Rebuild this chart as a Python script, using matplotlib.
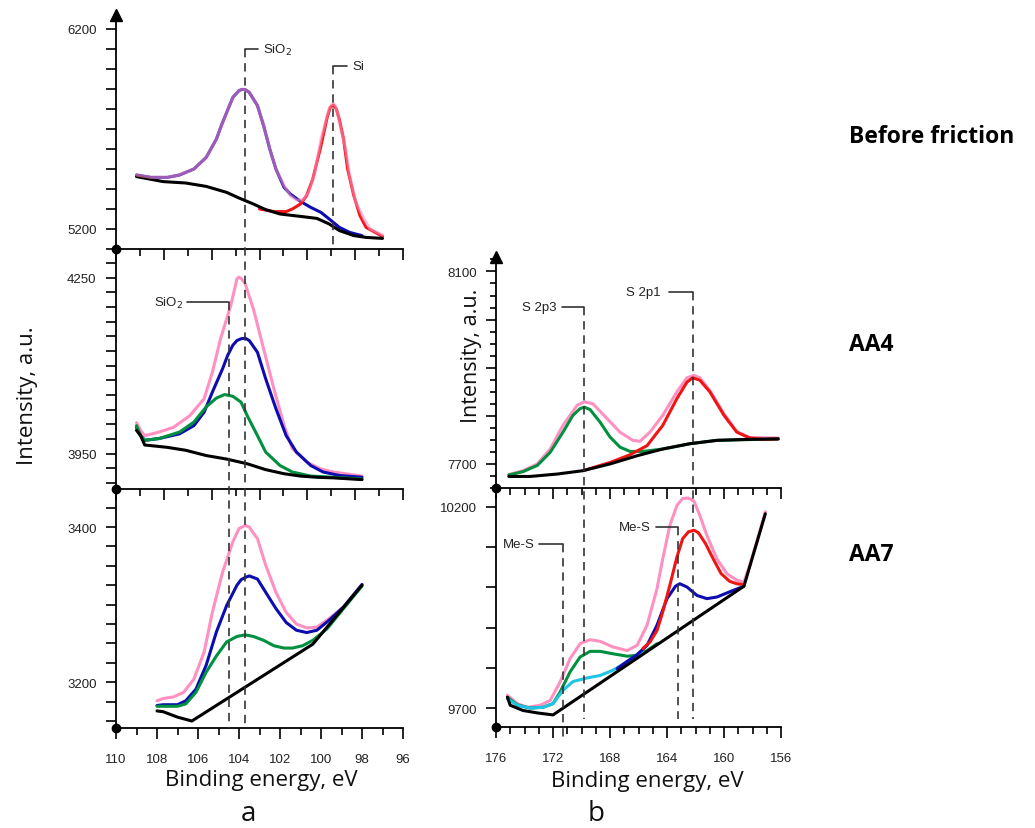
import matplotlib
matplotlib.use("Agg")
import matplotlib.pyplot as plt
from matplotlib.ticker import MultipleLocator, FixedLocator
from matplotlib.transforms import blended_transform_factory
from matplotlib.lines import Line2D
import numpy as np

# ---- data ----
# (a) Si 2p, before friction
a1_bg_e = [109.0, 107.7, 106.6, 105.6, 104.6, 104.0, 103.3, 102.7, 102.0, 101.0, 100.2, 99.6, 99.1, 98.4, 97.8, 97.0]
a1_bg_i = [5462, 5437, 5430, 5413, 5383, 5355, 5325, 5297, 5275, 5263, 5253, 5225, 5192, 5167, 5158, 5153]
a1_sum_e = [109.0, 108.3, 107.5, 106.9, 106.2, 105.6, 105.1, 104.85, 104.6, 104.3, 104.0, 103.85, 103.7, 103.5,
            103.1, 102.8, 102.5, 102.2, 101.8, 101.5, 101.2, 100.9, 100.6, 100.3, 100.0, 99.7, 99.6, 99.5, 99.4,
            99.3, 99.2, 99.1, 98.8, 98.6, 98.3, 97.9, 97.6, 97.0]
a1_sum_i = [5470, 5458, 5458, 5470, 5500, 5558, 5650, 5720, 5783, 5858, 5892, 5898, 5897, 5883, 5817, 5717,
            5600, 5500, 5417, 5367, 5345, 5345, 5383, 5483, 5650, 5767, 5800, 5820, 5826, 5817, 5785, 5733,
            5600, 5467, 5333, 5250, 5200, 5170]
a1_sio2_e = [109.0, 108.3, 107.5, 106.9, 106.2, 105.6, 105.1, 104.85, 104.6, 104.3, 104.0, 103.85, 103.7, 103.5,
             103.1, 102.8, 102.5, 102.2, 101.8, 101.5, 101.0, 100.5, 100.0, 99.6, 99.1, 98.6, 98.0]
a1_sio2_i = [5470, 5458, 5458, 5470, 5500, 5558, 5650, 5720, 5783, 5858, 5892, 5898, 5897, 5883, 5817, 5717,
             5600, 5500, 5408, 5375, 5338, 5308, 5283, 5250, 5208, 5183, 5167]
a1_si_e = [103.0, 102.3, 101.7, 101.4, 101.0, 100.7, 100.4, 100.0, 99.7, 99.55, 99.4, 99.25, 99.1, 98.9, 98.7,
           98.4, 98.1, 97.8, 97.0]
a1_si_i = [5300, 5287, 5287, 5300, 5325, 5367, 5450, 5617, 5758, 5808, 5820, 5800, 5745, 5650, 5500, 5367,
           5267, 5208, 5163]

# (a) AA4
a2_bg_e = [109.0, 108.8, 108.6, 107.5, 106.6, 105.6, 104.6, 103.6, 102.7, 101.8, 101.0, 100.2, 99.4, 98.0]
a2_bg_i = [3990, 3981, 3965, 3961, 3956, 3947, 3941, 3933, 3923, 3916, 3912, 3910, 3909, 3906]
a2_sum_e = [109.0, 108.8, 108.6, 108.0, 107.2, 106.4, 105.7, 105.3, 104.9, 104.4, 104.1, 104.0, 103.9, 103.7,
            103.3, 102.8, 102.3, 101.8, 101.4, 100.7, 100.0, 99.4, 98.0]
a2_sum_i = [4003, 3990, 3981, 3986, 3995, 4015, 4044, 4089, 4146, 4203, 4248, 4251, 4249, 4240, 4197, 4129,
            4061, 3998, 3959, 3936, 3924, 3919, 3912]
a2_blue_e = [109.0, 108.8, 108.6, 107.9, 106.9, 106.2, 105.7, 105.3, 104.8, 104.55, 104.3, 104.1, 103.9, 103.7,
             103.5, 103.1, 102.7, 102.2, 101.7, 101.2, 100.5, 99.9, 99.1, 98.0]
a2_blue_i = [3995, 3981, 3973, 3976, 3984, 3998, 4021, 4055, 4095, 4118, 4135, 4143, 4146, 4147, 4143, 4123,
             4078, 4027, 3981, 3953, 3930, 3919, 3913, 3910]
a2_green_e = [109.0, 108.8, 108.6, 107.9, 106.9, 106.2, 105.6, 105.1, 104.7, 104.3, 103.9, 103.6, 103.1, 102.7,
              102.0, 101.4, 100.5, 99.4, 98.0]
a2_green_i = [3998, 3981, 3973, 3976, 3987, 4004, 4030, 4045, 4051, 4048, 4038, 4015, 3981, 3953, 3930, 3919,
              3912, 3910, 3907]

# (a) AA7
a3_bg_e = [108.0, 107.7, 107.0, 106.3, 100.4, 98.0]
a3_bg_i = [3163, 3162, 3155, 3150, 3249, 3325]
a3_sum_e = [108.0, 107.7, 107.2, 106.7, 106.2, 105.7, 105.3, 104.8, 104.3, 104.0, 103.7, 103.5, 103.1, 102.7,
            102.2, 101.7, 101.2, 100.7, 100.2, 99.6, 98.9, 98.0]
a3_sum_i = [3176, 3179, 3181, 3187, 3204, 3239, 3290, 3342, 3381, 3398, 3402, 3400, 3385, 3351, 3316, 3290,
            3275, 3270, 3271, 3282, 3297, 3325]
a3_blue_e = [108.0, 107.7, 107.0, 106.6, 106.1, 105.6, 105.1, 104.6, 104.1, 103.9, 103.7, 103.5, 103.1, 102.7,
             102.2, 101.7, 101.2, 100.7, 100.2, 99.6, 98.9, 98.0]
a3_blue_i = [3170, 3171, 3171, 3176, 3191, 3222, 3265, 3299, 3325, 3332, 3335, 3337, 3333, 3316, 3295, 3277,
             3267, 3264, 3267, 3280, 3297, 3326]
a3_green_e = [108.0, 107.7, 107.0, 106.6, 106.1, 105.6, 105.1, 104.6, 104.1, 103.7, 103.3, 102.8, 102.3, 101.8,
              101.4, 100.9, 100.4, 99.7, 98.9, 98.0]
a3_green_i = [3169, 3169, 3169, 3172, 3187, 3213, 3234, 3252, 3259, 3261, 3259, 3254, 3247, 3244, 3244, 3247,
              3254, 3269, 3295, 3324]

# (b) S 2p, AA4
b1_bg_e = [175.1, 173.6, 171.7, 169.9, 168.0, 166.1, 164.3, 162.4, 160.5, 158.4, 156.2]
b1_bg_i = [7674, 7674, 7679, 7686, 7700, 7717, 7731, 7742, 7749, 7751, 7752]
b1_p3_e = [175.1, 174.1, 173.1, 172.2, 171.3, 170.6, 170.1, 169.8, 169.4, 168.7, 168.0, 167.3, 166.6, 165.7,
           164.3, 162.4, 160.5, 156.2]
b1_p3_i = [7677, 7684, 7697, 7724, 7766, 7801, 7815, 7818, 7813, 7787, 7756, 7735, 7726, 7726, 7731, 7742,
           7749, 7752]
b1_p1_e = [169.9, 168.0, 166.6, 165.4, 164.3, 163.3, 162.6, 162.2, 161.7, 161.0, 160.0, 159.1, 158.2, 157.2, 156.2]
b1_p1_i = [7686, 7703, 7719, 7738, 7780, 7836, 7870, 7879, 7874, 7850, 7801, 7766, 7754, 7751, 7752]
b1_sum_e = [175.1, 174.1, 173.1, 172.2, 171.3, 170.3, 169.8, 169.2, 168.2, 167.3, 166.4, 165.9, 165.2, 164.3,
            163.3, 162.6, 162.1, 161.7, 161.0, 160.0, 159.1, 158.2, 156.2]
b1_sum_i = [7678, 7686, 7700, 7731, 7780, 7822, 7829, 7825, 7794, 7766, 7749, 7747, 7766, 7801, 7850, 7879,
            7884, 7879, 7853, 7804, 7767, 7755, 7754]

# (b) S 2p, AA7
b2_bg_e = [175.2, 175.0, 174.1, 173.1, 172.0, 158.6, 157.1]
b2_bg_i = [9727, 9707, 9694, 9688, 9683, 10003, 10183]
b2_cyan_e = [175.2, 174.5, 173.6, 172.7, 172.0, 171.3, 170.6, 169.6, 168.7, 167.8, 166.6, 165.7]
b2_cyan_i = [9723, 9707, 9700, 9702, 9711, 9744, 9766, 9775, 9781, 9794, 9819, 9838]
b2_green_e = [175.2, 174.5, 173.6, 172.7, 172.0, 171.5, 170.8, 170.1, 169.4, 168.7, 167.8, 166.8, 166.1, 165.4, 164.7]
b2_green_i = [9727, 9708, 9700, 9702, 9711, 9740, 9790, 9827, 9841, 9841, 9835, 9829, 9831, 9843, 9860]
b2_blue_e = [167.5, 166.8, 166.1, 165.4, 164.7, 164.0, 163.4, 163.1, 162.6, 161.9, 161.2, 160.5, 159.6, 158.6]
b2_blue_i = [9798, 9816, 9833, 9856, 9906, 9972, 10003, 10009, 10001, 9980, 9972, 9976, 9989, 10003]
b2_red_e = [165.7, 165.2, 164.7, 164.3, 163.8, 163.3, 162.9, 162.5, 162.1, 161.8, 161.3, 160.7, 160.2, 159.6,
            159.1, 158.6]
b2_red_i = [9848, 9864, 9893, 9939, 10005, 10076, 10121, 10138, 10142, 10136, 10109, 10067, 10034, 10015,
            10009, 10007]
b2_sum_e = [175.2, 174.5, 173.8, 172.9, 172.2, 171.5, 170.8, 170.1, 169.4, 168.7, 167.8, 166.8, 166.1, 165.4,
            164.7, 164.3, 163.8, 163.3, 162.9, 162.5, 162.1, 161.7, 161.2, 160.5, 159.8, 159.1, 158.6, 158.2,
            157.7, 157.1]
b2_sum_i = [9732, 9711, 9702, 9707, 9719, 9765, 9823, 9860, 9870, 9866, 9852, 9843, 9856, 9906, 9997, 10071,
            10154, 10204, 10221, 10222, 10214, 10179, 10129, 10071, 10034, 10018, 10013, 10055, 10113, 10188]

row_labels = ["Before friction", "AA4", "AA7"]

PINK = "#ff90c2"
BLUE = "#0c0cb0"
GREEN = "#00903f"
RED = "#f01515"
CYAN = "#20c4e4"
DASH = "#333333"
LW = 2.2

W, H = 1035, 829
plt.rcParams['font.family'] = ['Liberation Sans', 'DejaVu Sans']
plt.rcParams['lines.solid_joinstyle'] = 'round'
plt.rcParams['lines.solid_capstyle'] = 'round'
fig = plt.figure(figsize=(W / 100, H / 100), dpi=100)


def box(x0, y0, x1, y1):
    return [x0 / W, 1 - y1 / H, (x1 - x0) / W, (y1 - y0) / H]


def fy(y):
    return 1 - y / H


def setup(ax, xlim, ylim, arrow):
    ax.set_facecolor('none')
    ax.set_xlim(*xlim)
    ax.set_ylim(*ylim)
    for s in ['top', 'right']:
        ax.spines[s].set_visible(False)
    for s in ['left', 'bottom']:
        ax.spines[s].set_linewidth(1.3)
    ax.tick_params(which='both', direction='out', width=1.2, labelsize=9.5, labelcolor='#222222')
    ax.tick_params(axis='y', which='both', length=7, pad=7)
    ax.tick_params(axis='x', which='major', length=8, pad=10)
    ax.tick_params(axis='x', which='minor', length=5)
    ax.plot(0, 0, 'o', color='black', ms=6, transform=ax.transAxes, clip_on=False, zorder=6)
    if arrow:
        ax.plot(0, 1, '^', color='black', ms=8, transform=ax.transAxes, clip_on=False, zorder=6)


# left column
a1 = fig.add_axes(box(116, 16, 403, 250))
a2 = fig.add_axes(box(116, 250, 403, 490))
a3 = fig.add_axes(box(116, 490, 403, 729))
setup(a1, (110, 96), (5100, 6270), True)
setup(a2, (110, 96), (3890, 4299), False)
setup(a3, (110, 96), (3141, 3449), False)
for ax in (a1, a2):
    ax.xaxis.set_major_locator(FixedLocator(np.linspace(110, 96, 7)))
    ax.xaxis.set_minor_locator(FixedLocator(np.linspace(110, 96, 13)))
    ax.tick_params(labelbottom=False)
a3.xaxis.set_major_locator(MultipleLocator(2))
a3.xaxis.set_minor_locator(MultipleLocator(1))
a1.set_yticks([5200, 6200])
a1.yaxis.set_minor_locator(MultipleLocator(100))
a2.set_yticks([3950, 4250])
a2.yaxis.set_minor_locator(MultipleLocator(25))
a3.set_yticks([3200, 3400])
a3.yaxis.set_minor_locator(MultipleLocator(25))

a1.plot(a1_sio2_e, a1_sio2_i, color=BLUE, lw=LW)
a1.plot(a1_si_e, a1_si_i, color=RED, lw=LW)
a1.plot(a1_bg_e, a1_bg_i, color='black', lw=LW)
a1.plot(a1_sum_e, a1_sum_i, color=PINK, lw=LW, alpha=0.6)

a2.plot(a2_sum_e, a2_sum_i, color=PINK, lw=LW)
a2.plot(a2_blue_e, a2_blue_i, color=BLUE, lw=LW)
a2.plot(a2_green_e, a2_green_i, color=GREEN, lw=LW)
a2.plot(a2_bg_e, a2_bg_i, color='black', lw=LW)

a3.plot(a3_sum_e, a3_sum_i, color=PINK, lw=LW)
a3.plot(a3_blue_e, a3_blue_i, color=BLUE, lw=LW)
a3.plot(a3_green_e, a3_green_i, color=GREEN, lw=LW)
a3.plot(a3_bg_e, a3_bg_i, color='black', lw=LW)

# right column
b1 = fig.add_axes(box(496, 258, 781, 489))
b2 = fig.add_axes(box(496, 489, 781, 728))
setup(b1, (176, 156), (7650, 8130), True)
setup(b2, (176, 156), (9653, 10247), False)
for ax in (b1, b2):
    ax.xaxis.set_major_locator(MultipleLocator(4))
    ax.xaxis.set_minor_locator(MultipleLocator(1))
b1.tick_params(labelbottom=False)
b1.set_yticks(np.arange(7700, 8101, 100), labels=['7700', '', '', '', '8100'])
b1.yaxis.set_minor_locator(MultipleLocator(25))
b1.tick_params(axis='y', which='minor', length=4)
b2.set_yticks(np.arange(9700, 10201, 100), labels=['9700', '', '', '', '', '10200'])

b1.plot(b1_sum_e, b1_sum_i, color=PINK, lw=LW)
b1.plot(b1_p3_e, b1_p3_i, color=GREEN, lw=LW)
b1.plot(b1_p1_e, b1_p1_i, color=RED, lw=LW)
b1.plot(b1_bg_e, b1_bg_i, color='black', lw=LW)

b2.plot(b2_sum_e, b2_sum_i, color=PINK, lw=LW)
b2.plot(b2_green_e, b2_green_i, color=GREEN, lw=LW)
b2.plot(b2_cyan_e, b2_cyan_i, color=CYAN, lw=LW)
b2.plot(b2_blue_e, b2_blue_i, color=BLUE, lw=LW)
b2.plot(b2_red_e, b2_red_i, color=RED, lw=LW)
b2.plot(b2_bg_e, b2_bg_i, color='black', lw=LW)


# peak marker: dashed line at energy e from y0 to y1 (figure px), solid bracket and label
def peak_mark(ax, e, y0, y1, e_br, e_txt, label, ha):
    tr = blended_transform_factory(ax.transData, fig.transFigure)
    fig.add_artist(Line2D([e, e], [fy(y0), fy(y1)], transform=tr, color=DASH, lw=1.2,
                          linestyle=(0, (5, 3.5)), zorder=10))
    fig.add_artist(Line2D([e, e_br], [fy(y0), fy(y0)], transform=tr, color=DASH, lw=1.2, zorder=10))
    fig.text(e_txt, fy(y0), label, transform=tr, ha=ha, va='center', fontsize=9.5, color='#222222')


peak_mark(a3, 103.7, 50, 729, 103.07, 102.83, "SiO$_2$", 'left')
peak_mark(a3, 99.4, 67, 250, 98.73, 98.49, "Si", 'left')
peak_mark(a3, 104.5, 303, 729, 106.54, 106.73, "SiO$_2$", 'right')
peak_mark(b2, 169.8, 308, 720, 171.35, 171.77, "S 2p3", 'right')
peak_mark(b2, 162.2, 293, 720, 163.86, 164.42, "S 2p1", 'right')
peak_mark(b2, 171.3, 545, 738, 172.97, 173.25, "Me-S", 'right')
peak_mark(b2, 163.2, 528, 720, 164.77, 165.12, "Me-S", 'right')

# axis titles
lab = dict(family=['Open Sans', 'DejaVu Sans'], color='#111111')
fig.text(28 / W, fy(396), "Intensity, a.u.", rotation=90, ha='center', va='center', fontsize=16, **lab)
fig.text(471 / W, fy(356), "Intensity, a.u.", rotation=90, ha='center', va='center', fontsize=15.5, **lab)
fig.text(261 / W, fy(781), "Binding energy, eV", ha='center', va='center', fontsize=16, **lab)
fig.text(647 / W, fy(782), "Binding energy, eV", ha='center', va='center', fontsize=16, **lab)
fig.text(248 / W, fy(814), "a", ha='center', va='center', fontsize=20, **lab)
fig.text(596 / W, fy(814), "b", ha='center', va='center', fontsize=20, **lab)

for lbl, y in zip(row_labels, [137, 345, 555]):
    fig.text(849 / W, fy(y), lbl, ha='left', va='center', family=['Open Sans', 'DejaVu Sans'],
             fontweight='bold', fontsize=16.5)

fig.savefig("out.png", dpi=100, facecolor='white')
